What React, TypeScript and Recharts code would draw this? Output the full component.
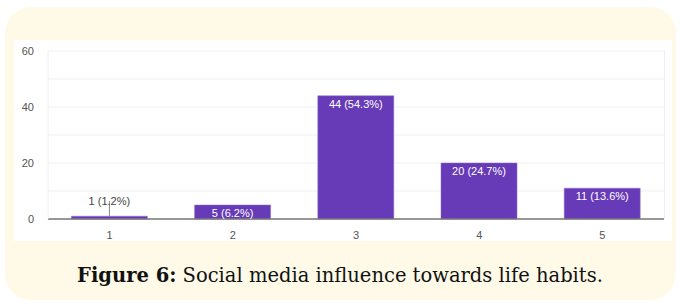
import { BarChart, Bar, XAxis, YAxis, CartesianGrid, LabelList } from 'recharts'

const categories = ['1', '2', '3', '4', '5']
const counts = [1, 5, 44, 20, 11]
const percents = ['1.2%', '6.2%', '54.3%', '24.7%', '13.6%']
const yTicks = [0, 10, 20, 30, 40, 50, 60]
const yLabelTicks = [0, 20, 40, 60]

const data = categories.map((c, i) => ({ name: c, value: counts[i], pct: percents[i] }))

const PURPLE = '#673ab7'
const SANS = "Arial, 'Liberation Sans', sans-serif"

function YTick({ x, y, payload }: any) {
  if (!yLabelTicks.includes(payload.value)) return null
  return (
    <text x={x + 4} y={y} dy={4} textAnchor="end" fontSize={11} fill="#555" fontFamily={SANS}>
      {payload.value}
    </text>
  )
}

// labels sit inside the bar top, or above it with a leader line when the bar is too short
function BarLabel({ x, y, width, height, index }: any) {
  const text = `${counts[index]} (${percents[index]})`
  const cx = x + width / 2
  if (height < 10) {
    return (
      <g>
        <line x1={cx} x2={cx} y1={y} y2={y - 15} stroke="#888" strokeWidth={1} />
        <text x={cx} y={y - 11} textAnchor="middle" fontSize={11} fill="#444" fontFamily={SANS}>
          {text}
        </text>
      </g>
    )
  }
  return (
    <text x={cx} y={y + 12} textAnchor="middle" fontSize={11} fill="#fff" fontFamily={SANS}>
      {text}
    </text>
  )
}

export default function App() {
  return (
    <div style={{ position: 'absolute', left: 0, top: 0, width: 680, height: 305, background: '#fff' }}>
      <div
        style={{
          position: 'absolute',
          left: 5,
          top: 7,
          width: 671,
          height: 293,
          background: '#fffae8',
          borderRadius: 26,
        }}
      />
      <div style={{ position: 'absolute', left: 14, top: 40, width: 658, height: 201, background: '#fff' }}>
        <BarChart
          width={658}
          height={201}
          data={data}
          margin={{ top: 11, right: 8, bottom: 0, left: 0 }}
          barCategoryGap="19%"
        >
          <CartesianGrid stroke="#efefef" vertical={false} />
          <XAxis
            dataKey="name"
            height={22}
            tickLine={false}
            axisLine={{ stroke: '#777', strokeWidth: 1.5 }}
            tick={{ fontSize: 11, fill: '#555', fontFamily: SANS }}
            tickMargin={6}
          />
          <YAxis
            width={34}
            domain={[0, 60]}
            ticks={yTicks}
            interval={0}
            tickLine={false}
            axisLine={{ stroke: '#eee' }}
            tick={<YTick />}
            tickMargin={12}
          />
          <Bar dataKey="value" fill={PURPLE} stroke="#8f6fd0" strokeWidth={0.5} isAnimationActive={false}>
            <LabelList dataKey="value" content={<BarLabel />} />
          </Bar>
        </BarChart>
        <div style={{ position: 'absolute', left: 650, top: 11, width: 1, height: 168, background: '#eee' }} />
      </div>
      <div
        style={{
          position: 'absolute',
          left: 0,
          width: 680,
          top: 264,
          textAlign: 'center',
          fontFamily: "'DejaVu Serif', serif",
          fontSize: 19.5,
          color: '#111',
        }}
      >
        <b>Figure 6:</b> Social media influence towards life habits.
      </div>
    </div>
  )
}
